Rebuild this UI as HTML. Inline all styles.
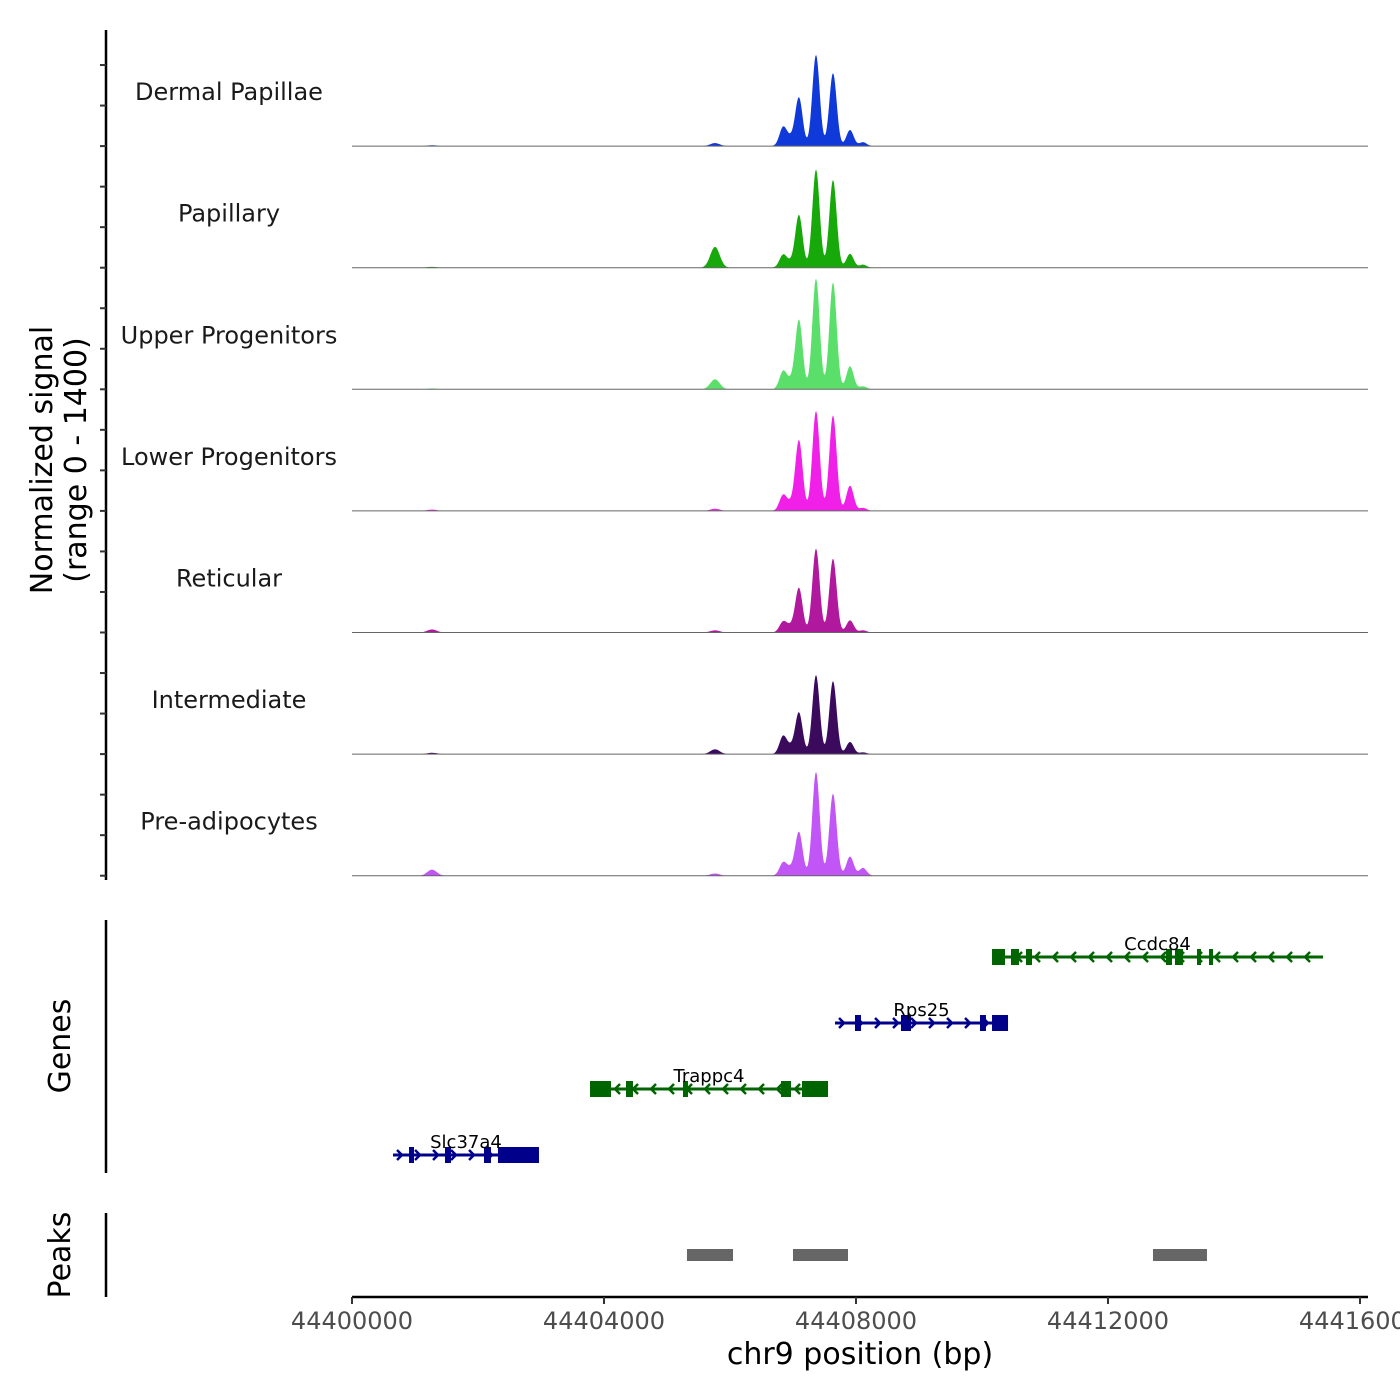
<!DOCTYPE html>
<html><head><meta charset="utf-8"><style>
html,body{margin:0;padding:0;background:#fff}
svg{display:block;font-family:"DejaVu Sans","Liberation Sans",sans-serif}
</style></head><body>
<svg id="chart" width="1400" height="1400" viewBox="0 0 1400 1400">
<g id="tracks"></g>
<g id="genes"></g>
<g id="peaks"></g>
<g id="axes"></g>
<text x="58" y="460" font-size="30" text-anchor="middle" transform="rotate(-90 58 460)"><tspan x="58" dy="-6">Normalized signal</tspan><tspan x="58" dy="34">(range 0 - 1400)</tspan></text>
<text x="70" y="1046" font-size="30" text-anchor="middle" transform="rotate(-90 70 1046)">Genes</text>
<text x="70" y="1255" font-size="30" text-anchor="middle" transform="rotate(-90 70 1255)">Peaks</text>
<text x="860" y="1364" font-size="30" text-anchor="middle">chr9 position (bp)</text>
</svg>
<script>
const trackNames = ["Dermal Papillae","Papillary","Upper Progenitors","Lower Progenitors","Reticular","Intermediate","Pre-adipocytes"];
const trackColors = ["#1039d9","#17a80a","#5ae06a","#f020e8","#b0189e","#3b0a5c","#c155f5"];
const peakPositions = [1270, 5762, 6841, 6960, 7095, 7365, 7635, 7905, 8111];
const dermalValues = [10, 35, 205, 90, 550, 1050, 840, 185, 45];
const papillaryValues = [10, 240, 140, 60, 600, 1130, 1010, 160, 35];
const upperValues = [10, 115, 195, 90, 790, 1275, 1230, 265, 35];
const lowerValues = [15, 25, 170, 80, 805, 1150, 1100, 290, 35];
const reticularValues = [35, 25, 115, 70, 505, 965, 850, 140, 25];
const intermediateValues = [15, 55, 195, 80, 470, 910, 840, 140, 20];
const preadipValues = [70, 25, 140, 80, 495, 1195, 945, 220, 90];
const trackValues = [dermalValues,papillaryValues,upperValues,lowerValues,reticularValues,intermediateValues,preadipValues];
const xTicks = [44400000, 44404000, 44408000, 44412000, 44416000];
const geneNames = ["Ccdc84","Rps25","Trappc4","Slc37a4"];
const geneStrands = ["-","+","-","+"];
const geneStarts = [10159, 7667, 3778, 651];
const geneEnds = [15413, 10413, 7556, 2968];
const geneColors = ["#006400","#00008b","#006400","#00008b"];
const geneExons = [
  [[10159,10365],[10460,10587],[10698,10794],[12921,13016],[13063,13190],[13413,13476],[13603,13667]],
  [[7984,8079],[8714,8873],[9968,10063],[10159,10413]],
  [[3778,4111],[4349,4460],[5254,5333],[6810,6968],[7143,7556]],
  [[905,984],[1476,1571],[2095,2206],[2317,2968]]
];
const peakStarts = [5317, 7000, 12714];
const peakEnds = [6048, 7873, 13571];

const NS="http://www.w3.org/2000/svg";
const ORIGIN=44400000;
const x = bp => 352 + (bp) * 0.063;
const xAbs = pos => 352 + (pos-ORIGIN)*0.063;
const trackH = 121.6, trackTop0 = 24.5, yMax = 1400;
function el(tag, attrs, parent){const e=document.createElementNS(NS,tag);for(const k in attrs)e.setAttribute(k,attrs[k]);parent.appendChild(e);return e;}

const tg=document.getElementById('tracks');
trackNames.forEach((name,i)=>{
  const base = trackTop0 + trackH*(i+1);
  const y = v => base - v/yMax*trackH;
  const g = el('g',{},tg);
  
  
  let d='M'+x(0)+','+base;
  for(let bp=0; bp<=16200; bp+=12){
    let v=0;
    peakPositions.forEach((p,j)=>{const s=(j<2)?75:(j===3?70:58); v+=trackValues[i][j]*Math.exp(-((bp-p)**2)/(2*s*s));});
    d+=' L'+x(bp).toFixed(2)+','+y(v).toFixed(2);
  }
  d+=' L'+x(16200)+','+base+' Z';
  const a=el('path',{d:d,fill:trackColors[i]},g);
  
  
  const bl=el('line',{x1:352,x2:1368,y1:base,y2:base,stroke:'#666','stroke-width':1},g);
  
  
  const t=el('text',{x:229,y:base-46,'font-size':24,'text-anchor':'middle',fill:'#1a1a1a'},g);
  t.textContent=name;
  
  
});

const gg=document.getElementById('genes');
const rowY=[957,1023,1089,1155];
geneNames.forEach((n,i)=>{
  const g=el('g',{fill:geneColors[i],stroke:geneColors[i]},gg);
  
  
  const yy=rowY[i], x1=x(geneStarts[i]), x2=x(geneEnds[i]);
  el('line',{x1:x1,x2:x2,y1:yy,y2:yy,'stroke-width':3},g);
  const step=18, dir=geneStrands[i]==='+'?1:-1;
  for(let xx=x1+8; xx<x2-4; xx+=step){
    el('polyline',{points:`${xx-dir*4},${yy-5} ${xx+dir*1},${yy} ${xx-dir*4},${yy+5}`,fill:'none','stroke-width':2.5},g);
  }
  geneExons[i].forEach(ex=>{
    const r=el('rect',{x:x(ex[0]),y:yy-8,width:Math.max(3,x(ex[1])-x(ex[0])),height:16,stroke:'none'},g);
    
    
  });
  const t=el('text',{x:(x1+x2)/2,y:yy-7,'font-size':18,'text-anchor':'middle',fill:'#000',stroke:'none'},g);
  t.textContent=n;
  
  
});

const pg=document.getElementById('peaks');
peakStarts.forEach((s,i)=>{
  const r=el('rect',{x:x(s),y:1249,width:x(peakEnds[i])-x(s),height:12,fill:'#666'},pg);
  
  
});

const ag=document.getElementById('axes');
el('line',{x1:106,x2:106,y1:30,y2:880,stroke:'#000','stroke-width':2.5},ag);
for(let k=0;k<=21;k++){
  const yy=trackTop0+trackH*7 - k*trackH/3;
  if(yy<40) continue;
  el('line',{x1:100,x2:106,y1:yy,y2:yy,stroke:'#333','stroke-width':2},ag);
}
el('line',{x1:106,x2:106,y1:920,y2:1173,stroke:'#000','stroke-width':2.5},ag);
el('line',{x1:106,x2:106,y1:1213,y2:1297,stroke:'#000','stroke-width':2.5},ag);
el('line',{x1:352,x2:1368,y1:1297,y2:1297,stroke:'#000','stroke-width':2.5},ag);
xTicks.forEach(v=>{
  const xx=xAbs(v);
  el('line',{x1:xx,x2:xx,y1:1297,y2:1304,stroke:'#333','stroke-width':2},ag);
  const t=el('text',{x:xx,y:1329,'font-size':24,'text-anchor':'middle',fill:'#4d4d4d'},ag);
  t.textContent=v;
  
  
});
</script>
</body></html>
